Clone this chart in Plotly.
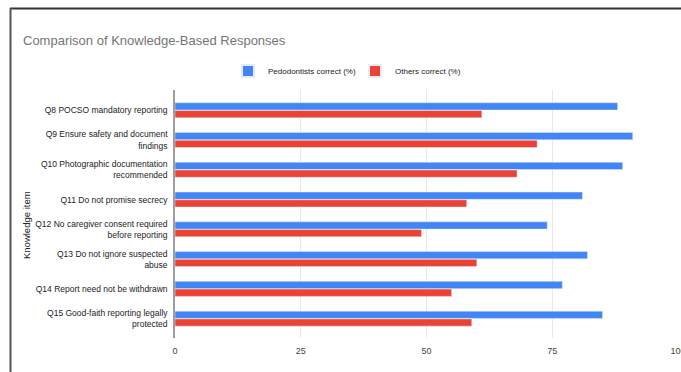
import plotly.graph_objects as go

categories = [
    "Q8 POCSO mandatory reporting",
    "Q9 Ensure safety and document<br>findings",
    "Q10 Photographic documentation<br>recommended",
    "Q11 Do not promise secrecy",
    "Q12 No caregiver consent required<br>before reporting",
    "Q13 Do not ignore suspected<br>abuse",
    "Q14 Report need not be withdrawn",
    "Q15 Good-faith reporting legally<br>protected",
]
pedodontists = [88, 91, 89, 81, 74, 82, 77, 85]
others = [61, 72, 68, 58, 49, 60, 55, 59]
x_ticks = [0, 25, 50, 75, 100]

FONT = "Liberation Sans, Arial, sans-serif"
W, H = 681, 372
ML, MR, MT, MB = 175, 3, 90, 34
PW, PH = W - ML - MR, H - MT - MB

def px(x):
    return (x - ML) / PW

def py(y):
    return (H - MB - y) / PH

fig = go.Figure()
fig.add_trace(go.Bar(y=categories, x=pedodontists, orientation="h",
                     name="Pedodontists correct (%)", marker_color="#4285F4",
                     legend="legend", showlegend=True))
fig.add_trace(go.Bar(y=categories, x=others, orientation="h",
                     name="Others correct (%)", marker_color="#EA4335",
                     legend="legend2", showlegend=True))

leg_common = dict(orientation="h", yanchor="middle", y=py(71), xanchor="left",
                  font=dict(family=FONT, size=8, color="#222222"),
                  itemsizing="constant", itemwidth=30,
                  bgcolor="rgba(0,0,0,0)", visible=True)

fig.update_layout(
    width=W, height=H, showlegend=True,
    margin=dict(l=ML, r=MR, t=MT, b=MB, pad=0, autoexpand=False),
    paper_bgcolor="white", plot_bgcolor="white",
    font=dict(family=FONT, size=8.5, color="#222222"),
    barmode="group", bargap=0.48, bargroupgap=0.06,
    title=dict(text="Comparison of Knowledge-Based Responses",
               font=dict(family=FONT, size=13, color="#757575"),
               xref="container", x=23 / W, xanchor="left",
               yref="container", y=1 - 40 / H, yanchor="middle"),
    legend=dict(x=px(228), **leg_common),
    legend2=dict(x=px(355), **leg_common),
    xaxis=dict(range=[0, 100], tickvals=x_ticks, ticktext=[str(v) for v in x_ticks],
               showgrid=True, gridcolor="#E8E8E8", gridwidth=1,
               zeroline=False, showline=False, ticks="",
               ticklabeloverflow="allow", automargin=False,
               ticklabelstandoff=6,
               tickfont=dict(family=FONT, size=9, color="#444444"),
               fixedrange=True),
    yaxis=dict(range=[7.65, -0.68], showgrid=False, zeroline=False,
               showline=True, linecolor="#9E9E9E", linewidth=1.5,
               ticks="", ticklabelstandoff=4, automargin=False,
               tickfont=dict(family=FONT, size=8.5, color="#222222"),
               fixedrange=True),
    annotations=[
        dict(text="Knowledge item", xref="paper", yref="paper",
             x=px(26), y=py(225), xanchor="center", yanchor="middle",
             textangle=-90, showarrow=False,
             font=dict(family=FONT, size=9.5, color="#222222")),
    ],
    shapes=[
        dict(type="line", xref="paper", yref="paper",
             x0=px(10), x1=px(W + 2), y0=py(8.5), y1=py(8.5),
             line=dict(color="#333333", width=2)),
        dict(type="line", xref="paper", yref="paper",
             x0=px(10.5), x1=px(10.5), y0=py(8), y1=py(H + 2),
             line=dict(color="#555555", width=2)),
    ],
)

fig.write_html("out.html")
